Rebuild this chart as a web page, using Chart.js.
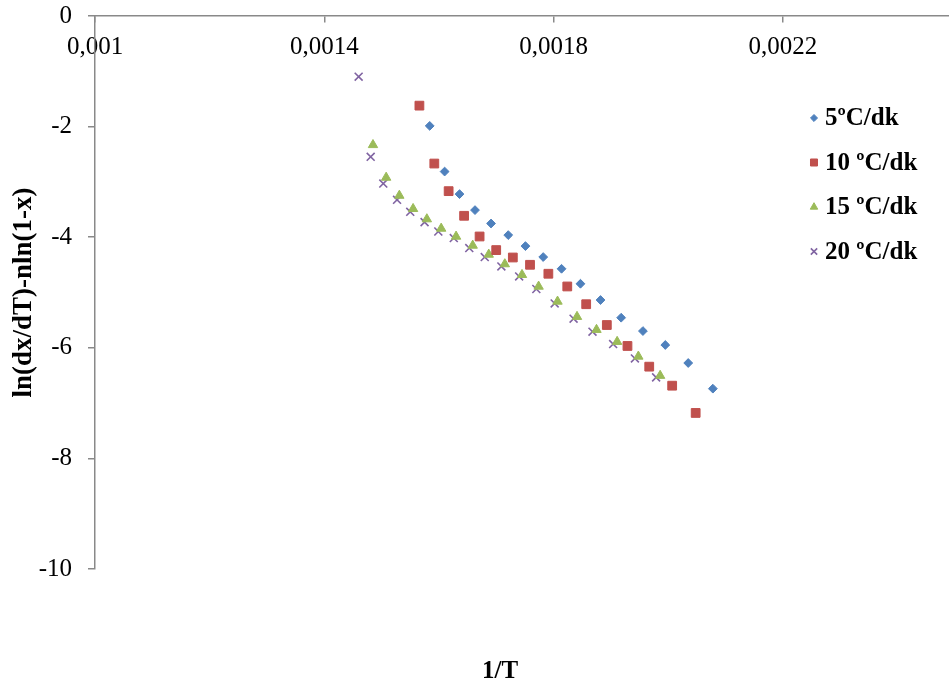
<!DOCTYPE html>
<html>
<head>
<meta charset="utf-8">
<title>ln(dx/dT)-nln(1-x) vs 1/T</title>
<script src="https://cdn.jsdelivr.net/npm/chart.js@4.4.1/dist/chart.umd.min.js"></script>
<style>
  html, body { margin: 0; padding: 0; background: #fff; overflow: hidden; }
</style>
</head>
<body>
<canvas id="kineticsChart" width="949" height="691"></canvas>
<script>
// heating rates
const seriesNames = ['5ºC/dk', '10 ºC/dk', '15 ºC/dk', '20 ºC/dk'];

// 5 ºC/dk
const x5 = [0.001584, 0.001610, 0.001636, 0.001663, 0.001691, 0.001721, 0.001751, 0.001782,
            0.001814, 0.001847, 0.001882, 0.001918, 0.001956, 0.001995, 0.002035, 0.002078];
const y5 = [-1.987, -2.813, -3.221, -3.510, -3.752, -3.962, -4.161, -4.359,
            -4.571, -4.842, -5.136, -5.456, -5.697, -5.949, -6.275, -6.739];

// 10 ºC/dk
const x10 = [0.001566, 0.001592, 0.001617, 0.001644, 0.001671, 0.001700, 0.001729, 0.001759,
             0.001791, 0.001824, 0.001857, 0.001893, 0.001929, 0.001967, 0.002007, 0.002048];
const y10 = [-1.621, -2.668, -3.167, -3.613, -3.987, -4.233, -4.367, -4.499,
             -4.661, -4.891, -5.212, -5.588, -5.967, -6.341, -6.685, -7.178];

// 15 ºC/dk
const x15 = [0.001485, 0.001508, 0.001531, 0.001555, 0.001579, 0.001604, 0.001630, 0.001659, 0.001687,
             0.001715, 0.001745, 0.001774, 0.001807, 0.001841, 0.001875, 0.001911, 0.001948, 0.001986];
const y15 = [-2.331, -2.921, -3.247, -3.487, -3.673, -3.843, -3.987, -4.150, -4.313,
             -4.486, -4.680, -4.891, -5.162, -5.438, -5.673, -5.890, -6.156, -6.504];

// 20 ºC/dk
const x20 = [0.001460, 0.001481, 0.001503, 0.001527, 0.001550, 0.001575, 0.001599, 0.001626, 0.001653, 0.001680,
             0.001709, 0.001740, 0.001770, 0.001802, 0.001835, 0.001868, 0.001904, 0.001942, 0.001979];
const y20 = [-1.097, -2.547, -3.030, -3.324, -3.541, -3.727, -3.897, -4.016, -4.197, -4.359,
             -4.529, -4.710, -4.937, -5.198, -5.474, -5.709, -5.932, -6.192, -6.535];

// axis ticks
const xTicks = [0.001, 0.0014, 0.0018, 0.0022];
const yTicks = [0, -2, -4, -6, -8, -10];

const toPoints = (xs, ys) => xs.map((x, i) => ({ x: x, y: ys[i] }));

const axisGray = '#898989';
const serif = '"Liberation Serif", "Times New Roman", serif';

const datasets = [
  {
    label: seriesNames[0],
    data: toPoints(x5, y5),
    pointStyle: 'rectRot',
    pointRadius: 4.4,
    backgroundColor: '#4F81BD',
    borderColor: '#4F81BD',
    borderWidth: 1,
  },
  {
    label: seriesNames[1],
    data: toPoints(x10, y10),
    pointStyle: 'rect',
    pointRadius: 6.2,
    backgroundColor: '#C0504D',
    borderColor: '#C0504D',
    borderWidth: 1,
  },
  {
    label: seriesNames[2],
    data: toPoints(x15, y15),
    pointStyle: 'triangle',
    pointRadius: 5.4,
    backgroundColor: '#9BBB59',
    borderColor: '#9BBB59',
    borderWidth: 1,
  },
  {
    label: seriesNames[3],
    data: toPoints(x20, y20),
    pointStyle: 'crossRot',
    pointRadius: 5.6,
    backgroundColor: '#8064A2',
    borderColor: '#8064A2',
    borderWidth: 1.6,
  },
];

// keep the axes from pushing the plot area around
const noPadding = (scale) => {
  scale.paddingLeft = 0;
  scale.paddingRight = 0;
  scale.paddingTop = 0;
  scale.paddingBottom = 0;
};

// legend on the right, drawn over the plot, plus the x title under it
const sideLegend = {
  id: 'sideLegend',
  afterDraw(chart) {
    const ctx = chart.ctx;
    ctx.save();
    chart.data.datasets.forEach((ds, i) => {
      const y = 118 + i * 44.5;
      ctx.fillStyle = ds.backgroundColor;
      ctx.strokeStyle = ds.borderColor;
      ctx.lineWidth = ds.borderWidth;
      Chart.helpers.drawPoint(ctx, {
        pointStyle: ds.pointStyle,
        radius: ds.pointRadius * 0.8,
        borderWidth: ds.borderWidth,
        rotation: 0,
      }, 814, y);
      ctx.fillStyle = '#000';
      ctx.font = 'bold 25px ' + serif;
      ctx.textAlign = 'left';
      ctx.textBaseline = 'alphabetic';
      ctx.fillText(ds.label, 825, y + 7);
    });
    ctx.font = 'bold 25px ' + serif;
    ctx.textAlign = 'center';
    ctx.textBaseline = 'middle';
    ctx.fillStyle = '#000';
    ctx.fillText('1/T', 500, 672);
    ctx.restore();
  }
};

const ctx = document.getElementById('kineticsChart').getContext('2d');
new Chart(ctx, {
  type: 'scatter',
  data: { datasets: datasets },
  options: {
    responsive: false,
    animation: false,
    layout: {
      autoPadding: false,
      padding: { top: 16, right: 0, bottom: 122, left: 0 },
    },
    plugins: {
      legend: { display: false },
      tooltip: { enabled: false },
    },
    scales: {
      x: {
        type: 'linear',
        position: { y: 0 },
        min: 0.001,
        max: 0.00249,
        afterBuildTicks: (scale) => { scale.ticks = xTicks.map(v => ({ value: v })); },
        afterFit: noPadding,
        grid: { drawOnChartArea: false, tickLength: 6, color: axisGray, lineWidth: 1.5 },
        border: { color: axisGray, width: 1.5 },
        ticks: {
          color: '#000',
          font: { family: serif, size: 25 },
          padding: 10,
          maxRotation: 0,
          autoSkip: false,
          callback: (v) => String(Number(v.toFixed(4))).replace('.', ','),
        },
      },
      y: {
        type: 'linear',
        position: 'left',
        min: -10,
        max: 0,
        afterBuildTicks: (scale) => { scale.ticks = yTicks.map(v => ({ value: v })); },
        afterFit: (scale) => { noPadding(scale); scale.width = 95; },
        grid: { drawOnChartArea: false, tickLength: 7, color: axisGray, lineWidth: 1.5 },
        border: { color: axisGray, width: 1.5 },
        ticks: {
          color: '#000',
          font: { family: serif, size: 25 },
          padding: 16,
        },
        title: {
          display: true,
          text: 'ln(dx/dT)-nln(1-x)',
          color: '#000',
          font: { family: serif, size: 27, weight: 'bold' },
          padding: { top: 8, bottom: 0 },
        },
      },
    },
  },
  plugins: [sideLegend],
});
</script>
</body>
</html>
